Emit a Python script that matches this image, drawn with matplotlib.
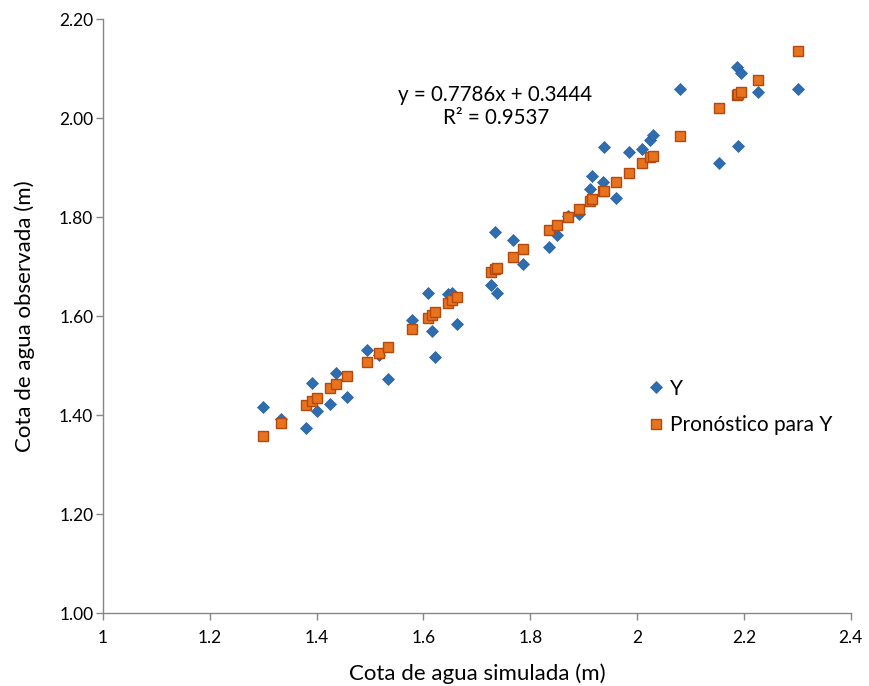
import numpy as np
import matplotlib
matplotlib.use("Agg")
import matplotlib.pyplot as plt

# cota simulada (eje x)
simulada = [1.300, 1.334, 1.381, 1.391, 1.401, 1.425, 1.437, 1.456, 1.494, 1.517,
            1.533, 1.578, 1.608, 1.616, 1.622, 1.646, 1.653, 1.663, 1.726, 1.734,
            1.738, 1.767, 1.786, 1.835, 1.850, 1.870, 1.891, 1.912, 1.915, 1.936,
            1.938, 1.961, 1.984, 2.009, 2.024, 2.029, 2.080, 2.153, 2.187, 2.189,
            2.194, 2.226, 2.301]

# cota observada (Y)
observada = [1.417, 1.392, 1.374, 1.464, 1.409, 1.422, 1.485, 1.436, 1.531, 1.521,
             1.473, 1.591, 1.647, 1.570, 1.517, 1.644, 1.647, 1.584, 1.663, 1.769,
             1.647, 1.754, 1.706, 1.740, 1.763, 1.802, 1.807, 1.857, 1.883, 1.870,
             1.942, 1.838, 1.931, 1.937, 1.955, 1.966, 2.059, 1.910, 2.104, 1.944,
             2.090, 2.053, 2.059]

# pronostico para Y (recta de regresion)
pronostico = [1.3566, 1.3831, 1.4196, 1.4274, 1.4352, 1.4539, 1.4632, 1.4780, 1.5076, 1.5255,
              1.5380, 1.5730, 1.5964, 1.6026, 1.6073, 1.6260, 1.6314, 1.6392, 1.6883, 1.6945,
              1.6976, 1.7202, 1.7350, 1.7731, 1.7848, 1.8004, 1.8167, 1.8331, 1.8354, 1.8518,
              1.8533, 1.8712, 1.8891, 1.9086, 1.9203, 1.9242, 1.9639, 2.0207, 2.0472, 2.0487,
              2.0526, 2.0776, 2.1360]

xticks = [1, 1.2, 1.4, 1.6, 1.8, 2, 2.2, 2.4]
xlabels = ["1", "1.2", "1.4", "1.6", "1.8", "2", "2.2", "2.4"]
yticks = [1.0, 1.2, 1.4, 1.6, 1.8, 2.0, 2.2]

plt.rcParams['font.family'] = ['Lato', 'DejaVu Sans']

fig = plt.figure(figsize=(8.69, 6.86), dpi=100)
ax = fig.add_axes([0.1185, 0.1064, 0.8605, 0.8659])

ax.plot(simulada, observada, linestyle="none", marker="D", ms=6.5,
        color="#2e6db0", mec="#2a62a0", mew=0.5, label="Y", zorder=3)
ax.plot(simulada, pronostico, linestyle="none", marker="s", ms=7.5,
        color="#e8731f", mec="#b4480f", mew=1.0, label="Pronóstico para Y", zorder=4)

ax.set_xlim(1, 2.4)
ax.set_ylim(1.0, 2.2)
ax.set_xticks(xticks)
ax.set_xticklabels(xlabels)
ax.set_yticks(yticks)
ax.set_yticklabels(["%.2f" % v for v in yticks])

for s in ["top", "right"]:
    ax.spines[s].set_visible(False)
for s in ["left", "bottom"]:
    ax.spines[s].set_color("#868686")
    ax.spines[s].set_linewidth(1.0)
ax.tick_params(direction="out", length=5, width=1.0, color="#868686",
               labelsize=12.5, labelcolor="black")
ax.tick_params(axis="x", pad=7)
ax.tick_params(axis="y", pad=2)

ax.set_xlabel("Cota de agua simulada (m)", fontsize=16, labelpad=13)
ax.set_ylabel("Cota de agua observada (m)", fontsize=16, labelpad=17)

ax.text(1.734, 2.046, "y = 0.7786x + 0.3444", ha="center", va="center", fontsize=14.8)
ax.text(1.736, 2.000, "R² = 0.9537", ha="center", va="center", fontsize=14.8)

ax.legend(loc="upper left", bbox_to_anchor=(0.701, 0.426), frameon=False,
          fontsize=15, labelspacing=0.8, handletextpad=0.15, handlelength=1.0)

fig.savefig("out.png", dpi=100)
